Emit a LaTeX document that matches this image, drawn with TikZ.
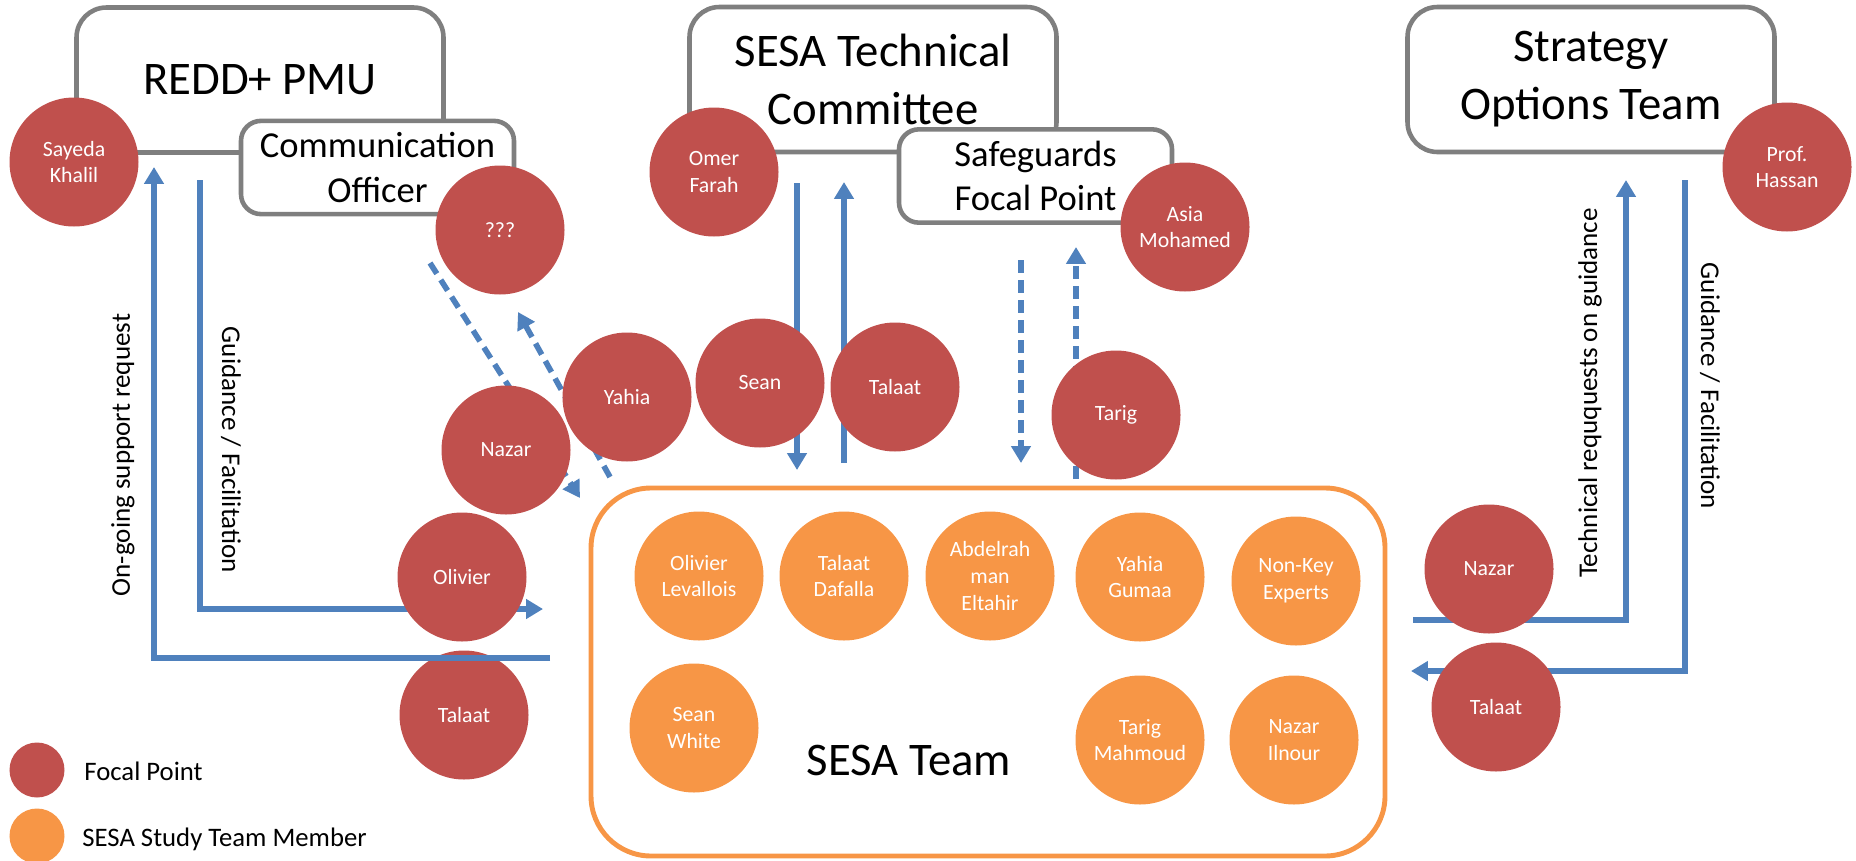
\documentclass[tikz,border=0pt]{standalone}
\usepackage{fontspec}
\setmainfont{Carlito}
\usetikzlibrary{arrows.meta}

\definecolor{focalred}{HTML}{C0504D}
\definecolor{teamorange}{HTML}{F79646}
\definecolor{linkblue}{HTML}{4F81BD}
\definecolor{boxgray}{HTML}{7F7F7F}

\begin{document}
\begin{tikzpicture}[focal/.style = {circle, fill=focalred, text=white,
	minimum size=1.29cm, inner sep=0mm, align=center, font=\fontsize{6.2}{7.5}\selectfont},
	member/.style = {circle, fill=teamorange, text=white,
	minimum size=1.29cm, inner sep=0mm, align=center, font=\fontsize{6.2}{7.6}\selectfont},
	unit/.style = {rectangle, rounded corners=3mm, draw=boxgray, line width=1.3pt, fill=white,
	minimum width=3.67cm, minimum height=1.45cm, align=center, font=\fontsize{13.3}{16.5}\selectfont},
	subunit/.style = {rectangle, rounded corners=2mm, draw=boxgray, line width=1.3pt, fill=white,
	minimum width=2.73cm, minimum height=0.92cm, align=center, font=\fontsize{10.4}{12.6}\selectfont},
	edge/.style = {draw=linkblue, line width=1.6pt, -{Triangle[width=5.4pt,length=4.8pt]}},
	dashedge/.style = {edge, dash pattern=on 3.6pt off 2.1pt},
	flow/.style = {font=\fontsize{7.7}{9}\selectfont}]

	\useasboundingbox (0cm, 0cm) rectangle (18.56cm, -8.60cm);

	\node (pmu) [unit] at ( 2.60cm,-0.80cm) {REDD+ PMU};
	\node (stc) [unit] at ( 8.73cm,-0.795cm) {SESA Technical\\Committee};
	\node (sot) [unit] at (15.91cm,-0.795cm) {Strategy\\Options Team};

	\node (comm) [subunit] at ( 3.775cm,-1.675cm) {Communication\\Officer};
	\node (sfp)  [subunit] at (10.355cm,-1.76cm) {Safeguards\\Focal Point};

	\node (team) [rectangle, rounded corners=6mm, draw=teamorange, line width=1.4pt,
		minimum width=7.94cm, minimum height=3.68cm] at (9.88cm,-6.72cm) {};

	\coordinate (g1) at ( 2.00cm,-1.80cm);
	\coordinate (g2) at ( 2.00cm,-6.09cm);
	\coordinate (g3) at ( 5.43cm,-6.09cm);
	\coordinate (o1) at ( 5.50cm,-6.58cm);
	\coordinate (o2) at ( 1.54cm,-6.58cm);
	\coordinate (o3) at ( 1.54cm,-1.67cm);
	\coordinate (c1) at ( 4.30cm,-2.63cm);
	\coordinate (c2) at ( 5.80cm,-4.98cm);
	\coordinate (c3) at ( 6.10cm,-4.77cm);
	\coordinate (c4) at ( 5.18cm,-3.12cm);
	\coordinate (t1) at ( 7.97cm,-1.83cm);
	\coordinate (t2) at ( 7.97cm,-4.70cm);
	\coordinate (t3) at ( 8.44cm,-4.63cm);
	\coordinate (t4) at ( 8.44cm,-1.82cm);
	\coordinate (s1) at (10.21cm,-2.60cm);
	\coordinate (s2) at (10.21cm,-4.63cm);
	\coordinate (s3) at (10.76cm,-4.79cm);
	\coordinate (s4) at (10.76cm,-2.47cm);
	\coordinate (r1) at (14.13cm,-6.20cm);
	\coordinate (r2) at (16.26cm,-6.20cm);
	\coordinate (r3) at (16.26cm,-1.80cm);
	\coordinate (h1) at (16.85cm,-1.80cm);
	\coordinate (h2) at (16.85cm,-6.71cm);
	\coordinate (h3) at (14.11cm,-6.71cm);

	\draw[edge] (g1) -- (g2) -- (g3);
	\draw[dashedge] (c1) -- (c2);
	\draw[dashedge] (c3) -- (c4);
	\draw[edge] (t1) -- (t2);
	\draw[edge] (t3) -- (t4);
	\draw[dashedge] (s1) -- (s2);
	\draw[dashedge] (s3) -- (s4);
	\draw[edge] (r1) -- (r2) -- (r3);
	\draw[edge] (h1) -- (h2) -- (h3);

	\node (sayeda)  [focal] at ( 0.74cm,-1.62cm) {Sayeda\\Khalil};
	\node (unknown) [focal] at ( 5.00cm,-2.30cm) {???};
	\node (omer)    [focal] at ( 7.14cm,-1.72cm) {Omer\\Farah};
	\node (asia)    [focal] at (11.85cm,-2.27cm) {Asia\\Mohamed};
	\node (hassan)  [focal] at (17.87cm,-1.67cm) {Prof.\\Hassan};
	\node (nazar1)  [focal] at ( 5.06cm,-4.50cm) {Nazar};
	\node (yahia)   [focal] at ( 6.27cm,-3.97cm) {Yahia};
	\node (sean)    [focal] at ( 7.60cm,-3.83cm) {Sean};
	\node (talaat1) [focal] at ( 8.95cm,-3.87cm) {Talaat};
	\node (tarig)   [focal] at (11.16cm,-4.15cm) {Tarig};
	\node (olivier) [focal] at ( 4.62cm,-5.77cm) {Olivier};
	\node (talaat2) [focal] at ( 4.64cm,-7.15cm) {Talaat};
	\node (nazar2)  [focal] at (14.89cm,-5.69cm) {Nazar};
	\node (talaat3) [focal] at (14.96cm,-7.07cm) {Talaat};

	\draw[edge] (o1) -- (o2) -- (o3);

	\node (m1) [member] at ( 6.99cm,-5.76cm) {Olivier\\Levallois};
	\node (m2) [member] at ( 8.44cm,-5.76cm) {Talaat\\Dafalla};
	\node (m3) [member] at ( 9.90cm,-5.76cm) {Abdelrah\\man\\Eltahir};
	\node (m4) [member] at (11.40cm,-5.77cm) {Yahia\\Gumaa};
	\node (m5) [member] at (12.96cm,-5.81cm) {Non-Key\\Experts};
	\node (m6) [member] at ( 6.94cm,-7.28cm) {Sean\\White};
	\node (m7) [member] at (11.40cm,-7.40cm) {Tarig\\Mahmoud};
	\node (m8) [member] at (12.94cm,-7.40cm) {Nazar\\Ilnour};

	\node (teamname) [font=\fontsize{13.3}{16}\selectfont] at (9.09cm,-7.60cm) {SESA Team};

	% Descriptions
	\node (ongoing) [flow, rotate=90]  at ( 1.23cm,-4.55cm) {On-going support request};
	\node (guide1)  [flow, rotate=-90] at ( 2.31cm,-4.50cm) {Guidance / Facilitation};
	\node (techreq) [flow, rotate=90]  at (15.90cm,-3.93cm) {Technical reququests on guidance};
	\node (guide2)  [flow, rotate=-90] at (17.10cm,-3.86cm) {Guidance / Facilitation};

	% Legend
	\node (keyfocal) [circle, fill=focalred, minimum size=0.55cm, inner sep=0mm] at (0.37cm,-7.70cm) {};
	\node (keymember) [circle, fill=teamorange, minimum size=0.55cm, inner sep=0mm] at (0.37cm,-8.36cm) {};
	\node [flow, anchor=west, font=\fontsize{7.6}{9}\selectfont] at (0.72cm,-7.71cm) {Focal Point};
	\node [flow, anchor=west, font=\fontsize{7.6}{9}\selectfont] at (0.70cm,-8.39cm) {SESA Study Team Member};
\end{tikzpicture}
\end{document}
